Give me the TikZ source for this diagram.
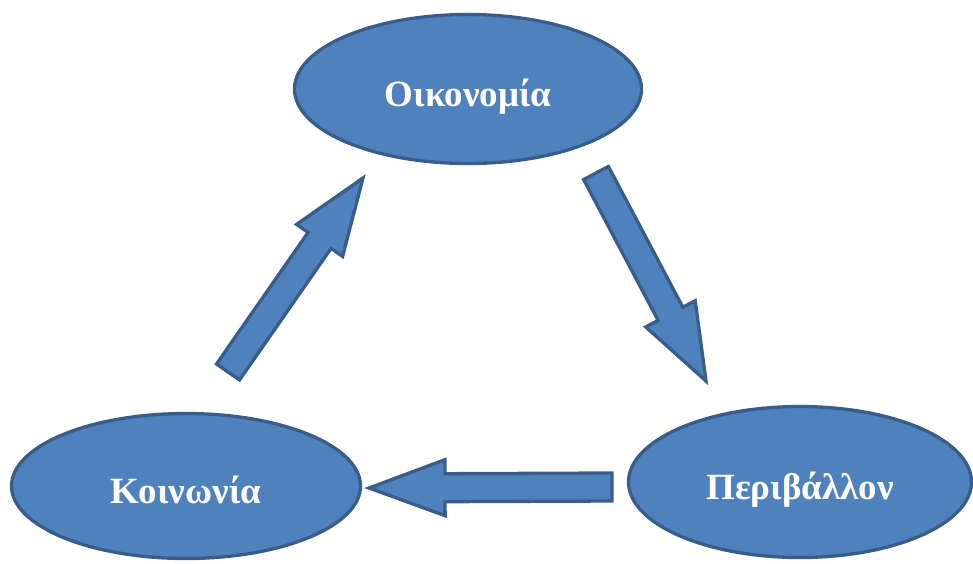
\documentclass[tikz,border=0pt]{standalone}
\usepackage{fontspec}
\setmainfont{Liberation Serif}
\usetikzlibrary{shapes.geometric,calc}
\definecolor{fillblue}{HTML}{4F81BD}
\definecolor{edgeblue}{HTML}{385D8A}
\tikzset{
  bubble/.style={ellipse, draw=edgeblue, fill=fillblue, line width=3.3pt, inner sep=0pt,
    text=white, text height=34pt, text depth=0pt,
    font=\bfseries\fontsize{37}{40}\selectfont},
  blockarrow/.style={draw=edgeblue, fill=fillblue, line width=3.3pt, line join=miter,
    to path={
      ($(\tikztotarget)!76pt!(\tikztostart)$) coordinate (hb)
      ($(\tikztostart)!14pt!90:(\tikztotarget)$) -- ($(hb)!14pt!90:(\tikztotarget)$)
      -- ($(hb)!28pt!90:(\tikztotarget)$) -- (\tikztotarget)
      -- ($(hb)!28pt!-90:(\tikztotarget)$) -- ($(hb)!14pt!-90:(\tikztotarget)$)
      -- ($(\tikztostart)!14pt!-90:(\tikztotarget)$) -- cycle}}
}
\begin{document}
\begin{tikzpicture}[x=1pt,y=-1pt]
\useasboundingbox (0,0) rectangle (973,563);
\node[bubble, minimum width=347pt, minimum height=149pt] (oik) at (468,89) {Οικονομία};
\node[bubble, minimum width=349pt, minimum height=145pt] (koin) at (186,486) {Κοινωνία};
\node[bubble, minimum width=343pt, minimum height=151pt] (per) at (800,482) {Περιβάλλον};
\coordinate (t1) at (228,372); \coordinate (h1) at (363,178);
\coordinate (t2) at (596,173); \coordinate (h2) at (706,381);
\coordinate (t3) at (612,487); \coordinate (h3) at (369,488);
\draw[blockarrow] (t1) to (h1);
\draw[blockarrow] (t2) to (h2);
\draw[blockarrow] (t3) to (h3);
\end{tikzpicture}
\end{document}
